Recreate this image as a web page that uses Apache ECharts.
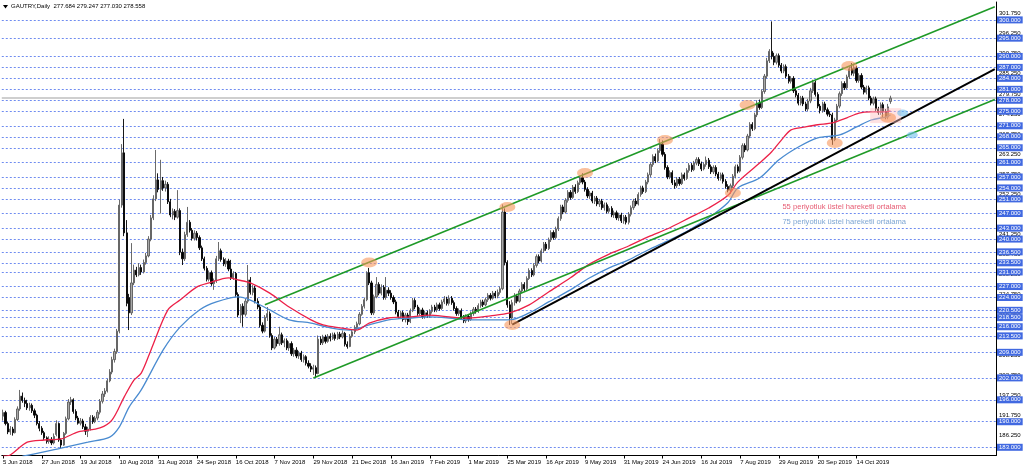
<!DOCTYPE html>
<html><head><meta charset="utf-8">
<script src="https://cdn.jsdelivr.net/npm/echarts@6/dist/echarts.min.js"></script>
<style>html,body{margin:0;padding:0;background:#fff}#c{width:1024px;height:471px}</style>
</head><body><div id="c"></div>
<script>
// ---- data ----
const titleText = 'GAUTRY,Daily  277.684 279.247 277.030 278.558';
const xLabels = ['5 Jun 2018','27 Jun 2018','19 Jul 2018','10 Aug 2018','31 Aug 2018','24 Sep 2018','16 Oct 2018','7 Nov 2018','29 Nov 2018','21 Dec 2018','16 Jan 2019','7 Feb 2019','1 Mar 2019','25 Mar 2019','16 Apr 2019','9 May 2019','31 May 2019','24 Jun 2019','16 Jul 2019','7 Aug 2019','29 Aug 2019','20 Sep 2019','14 Oct 2019'];
const barsPerLabel = 16;
const totalSlots = 410;
const levels = [300,295,290,287,284,281,278,275,271,268,265,261,257,254,251,247,243,240,236.5,233.5,231,227,224,220.5,218.5,216,213.5,209,202,196,190,183];
const scaleLabels = [180.755,186.255,191.755,197.255,202.755,208.255,213.755,219.255,224.755,230.255,235.755,241.255,246.755,252.255,257.755,263.255,268.755,274.255,279.755,285.255,290.755,296.255,301.755];
const lastPrice = 278.558;
// candles: [open, close, low, high]
const candles = [
[191.5,192.5,190.3,193.3],[192.5,189.5,189.0,193.0],[189.5,187.2,186.6,190.0],[187.2,188.0,186.4,188.8],[188.0,187.0,186.2,188.6],[187.0,190.6,186.8,191.2],[190.6,193.5,190.2,194.2],[193.5,197.0,193.0,198.7],[197.0,195.8,195.2,198.0],[195.8,195.0,194.0,196.6],
[195.0,193.8,193.2,196.0],[193.8,194.5,193.0,195.2],[194.5,193.0,192.4,195.0],[193.0,191.8,191.0,193.6],[191.8,189.5,189.0,192.2],[189.5,188.2,187.4,190.2],[188.2,187.0,186.4,188.8],[187.0,185.6,185.0,187.5],[185.6,184.6,184.0,186.0],[184.6,185.2,184.0,186.0],
[185.2,184.2,183.6,185.8],[184.2,186.0,183.8,186.8],[186.5,189.5,186.0,190.4],[189.5,185.0,184.5,189.8],[185.0,183.6,182.8,185.4],[183.6,186.8,183.4,187.2],[186.8,190.8,186.4,191.4],[190.8,195.4,190.4,196.2],[195.4,196.0,194.6,196.8],[196.0,192.8,192.2,196.4],
[192.8,191.0,190.4,193.4],[191.0,189.6,189.2,191.6],[189.6,190.2,189.0,191.0],[190.2,188.6,188.0,190.8],[188.6,187.4,186.4,189.4],[187.4,188.0,185.8,188.6],[188.0,191.2,187.6,191.8],[191.2,190.0,189.4,191.8],[190.0,191.0,189.6,191.6],[191.0,192.6,190.4,193.2],
[192.6,195.6,192.0,196.2],[195.6,197.6,195.0,198.4],[197.6,198.4,196.8,199.2],[198.4,201.2,198.0,201.8],[201.2,203.6,200.8,204.4],[203.6,207.0,203.0,207.8],[207.0,209.2,206.2,210.0],[209.2,214.8,208.6,215.4],[214.8,249.3,214.2,250.8],[249.3,263.6,248.6,266.0],
[263.6,241.7,240.8,272.9],[241.7,222.4,221.6,245.2],[224.0,219.8,215.1,225.0],[219.8,228.0,219.2,238.9],[228.0,231.5,227.4,233.0],[231.5,230.2,229.6,232.4],[230.2,232.2,229.8,233.4],[232.2,231.0,230.2,233.0],[231.0,233.6,230.6,234.4],[233.6,235.4,233.0,236.2],
[235.4,240.0,235.0,240.8],[240.0,245.8,239.4,246.6],[245.8,251.0,245.2,252.0],[251.0,256.2,250.4,264.4],[256.2,253.6,252.8,258.0],[253.6,256.0,247.0,261.7],[256.0,254.0,253.2,257.0],[254.0,255.0,253.0,256.0],[255.0,250.2,249.6,255.6],[250.2,246.6,246.0,251.0],
[246.6,247.6,245.4,248.4],[247.6,246.0,245.2,248.2],[246.0,247.8,245.6,253.4],[247.8,236.4,235.6,248.4],[236.4,234.6,232.9,237.4],[234.6,241.2,234.0,242.0],[241.2,244.6,240.6,248.8],[244.6,242.4,241.8,245.2],[242.4,240.2,239.6,243.0],[240.2,241.6,239.6,242.4],
[241.6,240.4,239.6,242.2],[240.4,237.6,237.0,241.0],[237.6,234.6,234.0,238.2],[234.6,232.0,231.4,235.2],[232.0,229.0,228.4,232.6],[229.0,230.8,228.4,231.4],[230.8,227.8,227.2,231.4],[227.8,228.6,226.1,229.2],[228.6,234.6,228.0,235.4],[234.6,236.8,234.0,239.2],
[236.8,234.4,233.8,237.4],[234.4,233.2,232.6,235.0],[233.2,234.0,232.4,234.8],[234.0,231.8,231.2,234.6],[231.8,229.4,228.8,234.3],[229.4,230.6,228.8,231.2],[230.6,224.8,224.2,231.0],[224.8,219.2,218.6,225.4],[219.2,221.6,217.0,222.2],[221.6,219.4,216.0,222.4],
[219.4,223.0,218.8,223.6],[223.0,228.8,222.4,232.9],[228.8,225.4,224.8,229.6],[225.4,226.6,224.6,227.4],[226.6,223.0,222.4,227.2],[223.0,221.4,220.8,223.8],[221.4,216.4,215.8,222.0],[216.4,214.8,214.2,217.2],[214.8,218.6,214.4,219.2],[218.6,219.6,217.6,221.4],
[219.6,213.6,213.0,220.2],[213.6,210.2,209.6,214.2],[210.2,212.6,209.8,213.2],[212.6,211.4,210.6,213.2],[211.4,213.8,210.8,216.0],[213.8,211.6,211.0,214.4],[211.6,212.2,210.4,212.8],[212.2,210.2,209.6,212.8],[210.2,211.4,209.4,212.0],[211.4,208.6,208.0,212.0],
[208.6,209.6,207.8,210.2],[209.6,208.0,207.4,210.4],[208.0,208.8,207.2,209.4],[208.8,207.0,206.4,209.4],[207.0,207.8,206.2,208.4],[207.8,206.0,205.4,208.2],[206.0,205.2,204.6,206.8],[205.2,204.4,203.6,206.0],[204.4,204.8,202.8,205.6],[204.8,203.2,202.0,205.4],
[203.2,212.6,203.0,213.6],[212.6,211.6,211.0,213.4],[211.6,213.2,211.0,213.8],[213.2,212.0,211.4,213.8],[212.0,213.4,211.6,214.0],[213.4,212.8,212.0,214.2],[212.8,213.8,212.4,214.4],[213.8,212.8,212.2,214.4],[212.8,214.0,212.4,214.6],[214.0,213.2,212.6,214.6],
[213.2,214.2,212.8,215.0],[214.2,211.2,210.6,214.6],[211.2,210.6,210.0,212.0],[210.6,213.4,210.4,214.0],[213.4,214.6,213.0,215.2],[214.6,215.8,214.0,216.4],[215.8,216.8,215.2,217.4],[216.8,219.4,216.4,220.0],[219.4,221.6,219.0,222.2],[221.6,223.4,221.0,224.0],
[223.4,230.8,223.0,231.2],[230.8,228.0,227.4,232.1],[228.0,219.8,219.2,228.6],[219.8,224.2,219.2,224.8],[224.2,227.6,223.8,229.6],[227.6,225.2,224.6,228.2],[225.2,226.8,224.6,227.6],[226.8,224.0,223.4,227.4],[224.0,226.0,223.4,229.6],[226.0,225.2,224.4,226.8],
[225.2,224.0,223.4,226.0],[224.0,222.8,222.2,224.6],[222.8,220.0,219.4,223.4],[220.0,218.8,218.2,220.6],[218.8,219.8,218.2,220.4],[219.8,218.0,217.4,220.4],[218.0,219.2,217.2,219.8],[219.2,217.4,216.5,219.8],[217.4,220.4,217.0,221.0],[220.4,223.2,220.0,223.9],
[223.2,221.4,220.8,223.8],[221.4,219.6,219.0,222.0],[219.6,220.6,219.0,221.2],[220.6,218.8,218.2,221.2],[218.8,219.8,218.2,220.4],[219.8,219.0,218.4,220.4],[219.0,220.2,218.4,220.8],[220.2,221.4,219.6,222.0],[221.4,220.6,220.0,222.0],[220.6,222.0,220.0,222.6],
[222.0,221.0,220.4,222.6],[221.0,222.8,220.6,223.4],[222.8,223.6,222.2,224.4],[223.6,222.4,221.8,224.2],[222.4,223.8,221.8,224.6],[223.8,222.6,222.0,224.4],[222.6,221.0,220.4,223.2],[221.0,219.6,219.0,221.6],[219.6,220.4,219.0,221.0],[220.4,218.6,218.0,221.0],
[218.6,217.6,217.0,219.2],[217.6,218.8,217.0,219.4],[218.8,218.0,217.4,219.4],[218.0,219.6,217.6,220.2],[219.6,220.8,219.0,221.4],[220.8,220.2,219.6,221.4],[220.2,221.8,219.8,222.4],[221.8,222.8,221.2,223.4],[222.8,222.0,221.4,223.4],[222.0,223.4,221.6,224.0],
[223.4,224.6,222.8,225.2],[224.6,223.8,223.2,225.2],[223.8,225.2,223.4,225.8],[225.2,224.4,223.8,225.8],[224.4,225.4,223.8,226.2],[225.4,226.4,224.8,227.0],[226.4,247.4,226.0,249.5],[247.4,233.6,232.8,248.4],[233.6,222.0,221.2,234.2],[222.0,218.4,216.5,223.0],
[218.4,222.6,216.8,223.4],[222.6,224.4,221.8,225.2],[224.4,223.0,222.4,225.0],[223.0,225.8,222.6,226.4],[225.8,227.6,225.2,228.2],[227.6,226.4,225.8,228.2],[226.4,229.2,226.0,229.8],[229.2,231.4,228.8,232.0],[231.4,230.2,229.6,232.0],[230.2,232.8,229.8,233.4],
[232.8,235.2,232.2,235.8],[235.2,234.0,233.4,235.8],[234.0,236.8,233.6,237.4],[236.8,238.6,236.2,239.2],[238.6,237.4,236.8,239.2],[237.4,239.8,237.0,240.4],[239.8,241.8,239.2,242.4],[241.8,240.4,239.8,242.4],[240.4,242.8,240.0,243.4],[242.8,245.6,242.2,246.2],
[245.6,248.8,245.0,249.4],[248.8,247.4,246.8,249.4],[247.4,250.6,247.0,251.2],[250.6,252.8,250.0,253.4],[252.8,251.4,250.8,253.4],[251.4,254.2,251.0,254.8],[254.2,253.0,252.4,255.0],[253.0,255.4,252.6,256.0],[255.4,256.8,254.8,257.4],[256.8,255.6,255.0,258.0],
[255.6,253.6,253.0,256.2],[253.6,251.8,251.2,254.2],[251.8,252.6,251.0,253.2],[252.6,250.4,249.8,253.2],[250.4,251.2,249.6,251.8],[251.2,249.6,249.0,251.8],[249.6,250.4,248.8,251.0],[250.4,248.6,248.0,251.0],[248.6,249.4,247.8,250.0],[249.4,247.6,247.0,250.0],
[247.6,248.4,247.0,249.0],[248.4,246.6,246.0,249.0],[246.6,247.2,245.8,247.8],[247.2,245.8,245.2,247.8],[245.8,246.6,245.0,247.2],[246.6,245.0,244.4,247.2],[245.0,246.0,244.2,246.6],[246.0,244.6,244.0,246.6],[244.6,246.8,244.0,247.4],[246.8,248.6,246.2,249.2],
[248.6,250.4,248.0,251.0],[250.4,249.6,249.0,251.2],[249.6,252.2,249.2,252.8],[252.2,254.0,251.6,254.6],[254.0,253.0,252.4,254.6],[253.0,255.6,252.6,256.2],[255.6,257.6,255.0,258.2],[257.6,260.4,257.0,261.0],[260.4,262.6,259.8,263.2],[262.6,261.4,260.8,263.4],
[261.4,264.2,261.0,264.8],[264.2,266.0,263.6,267.4],[266.0,263.2,262.6,267.0],[263.2,259.6,259.0,263.8],[259.6,257.0,256.4,260.2],[257.0,258.2,256.4,258.8],[258.2,255.4,254.8,258.8],[255.4,254.6,253.8,256.2],[254.6,256.4,254.0,257.0],[256.4,255.2,254.6,257.0],
[255.2,257.6,254.8,258.2],[257.6,256.6,256.0,258.2],[256.6,258.8,256.2,259.4],[258.8,260.2,258.2,260.8],[260.2,259.0,258.4,260.8],[259.0,260.8,258.6,261.4],[260.8,261.8,260.2,262.4],[261.8,260.6,260.0,262.4],[260.6,259.2,258.6,261.2],[259.2,260.4,258.8,261.0],
[260.4,261.6,259.8,262.6],[261.6,259.8,259.2,262.2],[259.8,258.4,257.8,260.4],[258.4,259.6,257.8,260.2],[259.6,257.8,257.2,260.2],[257.8,256.6,256.0,258.4],[256.6,257.6,256.0,258.2],[257.6,255.8,255.2,258.2],[255.8,254.4,253.8,256.4],[254.4,253.4,252.8,255.0],
[253.4,254.6,252.4,255.2],[254.6,257.2,254.0,257.8],[257.2,259.8,256.6,260.4],[259.8,258.6,258.0,260.4],[258.6,262.4,258.2,263.0],[262.4,265.6,261.8,266.2],[265.6,264.4,263.8,266.2],[264.4,268.2,264.0,268.8],[268.2,271.4,267.6,272.0],[271.4,270.2,269.6,272.0],
[270.2,274.0,269.8,274.6],[274.0,277.2,273.4,278.0],[277.2,276.0,275.4,278.2],[276.0,280.4,275.6,281.0],[280.4,284.6,279.8,285.2],[284.6,288.8,284.0,289.6],[288.8,291.4,288.2,292.0],[291.4,290.0,289.2,299.6],[290.0,288.4,287.6,291.0],[288.4,290.2,287.8,290.8],
[290.2,287.6,287.0,290.8],[287.6,286.0,285.4,288.2],[286.0,287.2,285.4,287.8],[287.2,284.6,284.0,287.8],[284.6,283.2,282.6,285.2],[283.2,284.0,282.6,284.6],[284.0,280.6,280.0,284.6],[280.6,279.4,278.8,281.2],[279.4,277.2,276.6,280.0],[277.2,278.6,276.6,279.2],
[278.6,277.0,276.4,279.2],[277.0,275.6,275.0,277.6],[275.6,277.8,275.0,278.4],[277.8,280.6,277.2,281.4],[280.6,282.8,280.0,283.6],[282.8,279.6,279.0,283.4],[279.6,276.4,275.8,280.2],[276.4,275.2,274.4,277.0],[275.2,277.0,274.6,277.6],[277.0,275.4,274.8,277.6],
[275.4,274.2,273.6,276.0],[274.2,274.0,273.4,275.0],[274.0,267.2,265.8,274.6],[267.2,272.6,266.8,273.2],[272.6,276.4,272.0,277.0],[276.4,279.8,275.8,280.4],[279.8,282.6,279.2,283.2],[282.6,281.4,280.8,283.2],[281.4,284.4,281.0,285.0],[284.4,286.6,283.8,287.2],
[286.6,285.4,284.8,288.2],[285.4,286.8,284.6,288.0],[286.8,283.4,282.8,287.4],[283.4,284.8,282.8,285.4],[284.8,281.6,281.0,285.4],[281.6,280.2,279.6,282.2],[280.2,281.4,279.6,282.0],[281.4,278.6,278.0,282.0],[278.6,277.2,276.6,279.2],[277.2,278.4,276.6,279.0],
[278.4,275.6,275.0,279.0],[275.6,274.6,274.0,276.2],[274.6,276.8,274.0,277.4],[276.8,275.0,273.2,277.4],[275.0,273.4,272.8,275.6],[273.4,276.2,272.8,277.0],[277.684,278.558,277.030,279.247]
];
// EMA lines: [barIndex, price]
const ema55 = [[0,180.6],[3,180.9],[10,184.4],[17,185.0],[24,185.3],[31,187.2],[40,188.3],[45,190.5],[50,196.8],[54,201.4],[57,203.3],[61,209.6],[68,220.6],[73,223.3],[80,226.9],[85,228.0],[93,229.4],[97,228.8],[102,228.0],[110,225.2],[118,221.4],[127,217.9],[132,216.5],[139,215.7],[146,215.1],[151,217.0],[159,218.4],[168,218.7],[176,219.2],[184,218.7],[192,218.4],[201,219.0],[209,219.8],[217,222.0],[225,225.5],[234,229.4],[242,233.2],[250,235.9],[258,238.1],[266,240.6],[275,243.1],[283,245.8],[291,248.5],[299,252.0],[303,255.6],[312,260.8],[317,263.9],[321,267.1],[325,269.9],[331,270.7],[336,271.3],[342,271.8],[348,273.2],[353,274.5],[358,274.8],[364,274.8],[366,275.1]];
const ema75 = [[8,180.6],[11,180.9],[24,182.8],[35,184.4],[44,185.8],[48,188.6],[52,194.0],[57,198.7],[66,209.6],[73,215.9],[81,220.6],[88,222.8],[97,224.2],[102,223.3],[110,220.6],[118,217.9],[127,217.0],[135,215.7],[143,215.1],[151,216.5],[159,217.9],[168,218.4],[176,218.7],[184,218.4],[192,217.9],[201,217.9],[209,217.9],[217,219.8],[225,222.8],[234,226.1],[242,229.4],[250,232.1],[258,234.3],[266,237.0],[275,239.8],[283,242.5],[291,245.8],[299,250.0],[303,254.0],[312,256.7],[320,261.7],[328,265.2],[336,267.7],[345,268.5],[352,270.7],[358,272.6],[364,273.4],[366,274.0]];
// trend lines [barIndex, price]
const channelUpper = [[108,222.0],[409,303.6]];
const channelLower = [[128,202.0],[409,278.2]];
const supportLine = [[210,216.6],[409,286.5]];
// annotations
const orangeMarks = [[151,233.6],[208,248.8],[210,216.5],[240,258.1],[273,267.1],[301,252.6],[307,276.7],[343,266.3],[349,287.4],[365,273.2]];
const blueMarks = [[371,274.5],[375,268.5]];
const pinkMarks = [[364,273.8]];
const notes = [
  {pos:[321,248.7], text:'55 periyotluk üstel hareketli ortalama', color:'#e0304e'},
  {pos:[321,244.7], text:'75 periyotluk üstel hareketli ortalama', color:'#5b8fc8'}
];

// ---- chart ----
const FONT = 'Liberation Sans, Arial, sans-serif';
const cats = [];
for (let i = 0; i < totalSlots; i++) cats.push(String(i));
const showTick = (idx) => idx % barsPerLabel === 0 && idx / barsPerLabel < xLabels.length;
const HIDDEN = 'rgba(0,0,0,0)';

const chart = echarts.init(document.getElementById('c'), null, {renderer: 'canvas'});
const option = {
  animation: false,
  backgroundColor: '#ffffff',
  grid: {left: 1.3, top: 2, width: 994.7, height: 453.5, containLabel: false},
  xAxis: {
    type: 'category', data: cats, boundaryGap: true,
    axisLine: {show: true, lineStyle: {color: '#000', width: 1}},
    axisTick: {show: true, alignWithLabel: true, interval: (i) => showTick(i), length: 3, lineStyle: {color: '#000'}},
    axisLabel: {show: true, interval: (i) => showTick(i), formatter: (v, i) => xLabels[i / barsPerLabel] || '',
      fontSize: 6, fontFamily: FONT, color: '#000', align: 'left', margin: 4, padding: [0,0,0,0]},
    splitLine: {show: false}
  },
  yAxis: {
    type: 'value', position: 'right', min: 180.755, max: 304.9, scale: true,
    axisLine: {show: true, onZero: false, lineStyle: {color: '#000', width: 1}},
    axisTick: {show: false}, axisLabel: {show: false}, splitLine: {show: false}
  },
  graphic: [
    {type: 'polygon', shape: {points: [[3,5],[8,5],[5.5,8.5]]}, style: {fill: '#000'}},
    {type: 'text', left: 11, top: 3, style: {text: titleText, font: '6px ' + FONT, fill: '#000'}}
  ],
  series: [
    {
      type: 'line', data: [], silent: true, z: 1, clip: true,
      markLine: {
        silent: true, symbol: ['none','none'], animation: false,
        lineStyle: {color: '#6f8cf0', type: [2,2], width: 1},
        label: {show: false},
        data: levels.map(v => ({yAxis: v}))
      }
    },
    {
      type: 'line', data: [], silent: true, z: 2, clip: true,
      markLine: {
        silent: true, symbol: ['none','none'], animation: false,
        lineStyle: {color: '#cfcfcf', type: 'solid', width: 2},
        label: {show: false},
        data: [{yAxis: lastPrice}]
      }
    },
    {
      type: 'line', data: [], silent: true, z: 3, clip: false,
      markLine: {
        silent: true, symbol: ['none','none'], animation: false,
        lineStyle: {color: HIDDEN, width: 1},
        label: {show: true, position: 'end', distance: 3, formatter: (p) => Number(p.value).toFixed(3),
          fontSize: 6, fontFamily: FONT, color: '#000', opacity: 1},
        data: scaleLabels.map(v => ({yAxis: v}))
      }
    },
    {
      type: 'line', data: [], silent: true, z: 4, clip: false,
      markLine: {
        silent: true, symbol: ['none','none'], animation: false,
        lineStyle: {color: HIDDEN, width: 1},
        label: {show: true, position: 'end', distance: 1, formatter: (p) => Number(p.value).toFixed(3),
          fontSize: 6, fontFamily: FONT, color: '#fff', backgroundColor: '#4169e1', padding: [1,2,0,2], lineHeight: 6, opacity: 1},
        data: levels.map(v => ({yAxis: v}))
      }
    },
    {
      type: 'candlestick', data: candles, z: 5, barWidth: 1.7,
      itemStyle: {color: '#a8a8a8', color0: '#000000', borderColor: '#5a5a5a', borderColor0: '#000000', borderWidth: 0.9}
    },
    {type: 'line', data: ema75, z: 6, symbol: 'none', smooth: 0.3, lineStyle: {color: '#4a8bd0', width: 1.3}},
    {type: 'line', data: ema55, z: 6, symbol: 'none', smooth: 0.3, lineStyle: {color: '#ec2148', width: 1.3}},
    {type: 'line', data: channelUpper, z: 7, symbol: 'none', lineStyle: {color: '#1f9a27', width: 1.6}},
    {type: 'line', data: channelLower, z: 7, symbol: 'none', lineStyle: {color: '#1f9a27', width: 1.6}},
    {type: 'line', data: supportLine, z: 7, symbol: 'none', lineStyle: {color: '#000', width: 2}},
    {type: 'scatter', data: pinkMarks, z: 8, symbol: 'rect', symbolSize: [31,15], itemStyle: {color: 'rgba(255,190,190,0.55)'}, silent: true},
    {type: 'scatter', data: orangeMarks, z: 9, symbol: 'circle', symbolSize: [16,10], itemStyle: {color: 'rgba(246,150,90,0.75)'}, silent: true},
    {type: 'scatter', data: blueMarks, z: 9, symbol: 'circle', symbolSize: [11,7], itemStyle: {color: 'rgba(110,190,235,0.75)'}, silent: true},
    {type: 'scatter', z: 10, symbolSize: 0, silent: true,
      data: notes.map(n => ({value: n.pos, label: {show: true, position: 'right', distance: 1, formatter: n.text, color: n.color, fontSize: 7.6, fontFamily: FONT}}))}
  ]
};
chart.setOption(option);
</script>
</body></html>
